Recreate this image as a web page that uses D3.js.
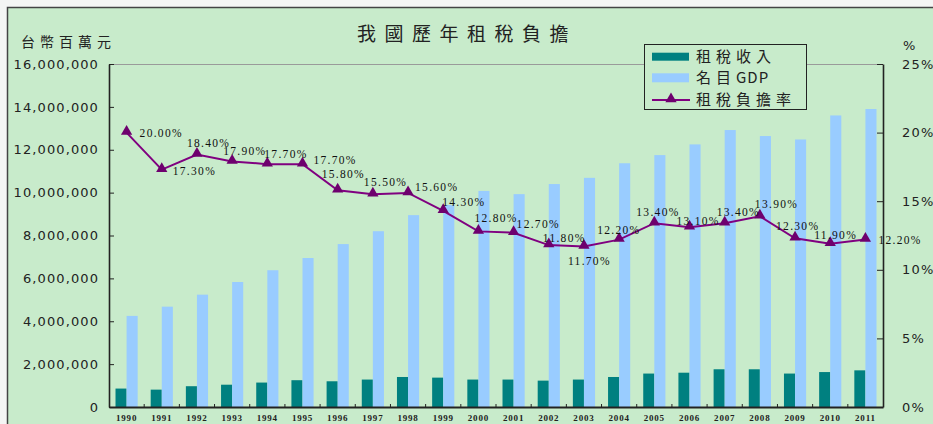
<!DOCTYPE html>
<html>
<head>
<meta charset="utf-8">
<script src="https://cdn.jsdelivr.net/npm/d3@7"></script>
<style>
  body { margin: 0; background: #f4f5f4; }
  svg { display: block; }
  .axis path, .axis line { stroke: #222; }
</style>
</head>
<body>
<svg id="chart" width="933" height="424"></svg>
<script>
// data (million NTD / percent)
var years = ["1990","1991","1992","1993","1994","1995","1996","1997","1998","1999","2000",
             "2001","2002","2003","2004","2005","2006","2007","2008","2009","2010","2011"];
var taxRevenue = [860000, 810000, 970000, 1040000, 1140000, 1250000, 1200000, 1280000, 1400000, 1370000, 1280000,
                  1280000, 1230000, 1280000, 1400000, 1560000, 1600000, 1760000, 1760000, 1560000, 1630000, 1710000];
var nominalGDP = [4250000, 4680000, 5240000, 5830000, 6380000, 6950000, 7600000, 8200000, 8950000, 9420000, 10080000,
                  9930000, 10400000, 10690000, 11370000, 11750000, 12250000, 12920000, 12640000, 12480000, 13600000, 13900000];
var taxBurden = [20.0, 17.3, 18.4, 17.9, 17.7, 17.7, 15.8, 15.5, 15.6, 14.3, 12.8,
                 12.7, 11.8, 11.7, 12.2, 13.4, 13.1, 13.4, 13.9, 12.3, 11.9, 12.2];
var seriesNames = ["租稅收入", "名目GDP", "租稅負擔率"];
var leftTicks = [0, 2000000, 4000000, 6000000, 8000000, 10000000, 12000000, 14000000, 16000000];
var rightTicks = [0, 5, 10, 15, 20, 25];

// hand placed label nudges, like the original excel labels
var labelShift = [[13,0],[11,1],[-10,-12],[-9,-10],[-3,-10],[11,-4],[-16,-16],[-9,-12],[7,-6],[-1,-9],[-4,-13],
                  [3,-9],[-6,-7],[-16,14],[-22,-10],[-18,-11],[-13,-6],[-8,-11],[-5,-12],[-19,-12],[-16,-9],[13,0]];

var svg = d3.select("#chart");
var margin = {top: 64, right: 50, bottom: 17, left: 109};
var width = 933 - margin.left - margin.right;
var height = 424 - margin.top - margin.bottom;

var data = years.map(function(y, i) {
  return {year: y, tax: taxRevenue[i], gdp: nominalGDP[i], rate: taxBurden[i]};
});
var keys = ["tax", "gdp"];
var colors = {tax: "#008080", gdp: "#99ccff"};

// outer frame
svg.append("rect").attr("x", 7.5).attr("y", 7.5).attr("width", 960).attr("height", 440)
    .attr("fill", "#c8ebcb").attr("stroke", "#444").attr("stroke-width", 1.5);

var g = svg.append("g").attr("transform", "translate(" + margin.left + "," + margin.top + ")");

var x0 = d3.scaleBand().domain(years).range([0, width]).paddingInner(0.37).paddingOuter(0.185);
var x1 = d3.scaleBand().domain(keys).range([0, x0.bandwidth()]);
var y = d3.scaleLinear().domain([0, 16000000]).range([height, 0]);
var y2 = d3.scaleLinear().domain([0, 25]).range([height, 0]);

// plot top border
g.append("line").attr("x1", 0).attr("x2", width).attr("y1", 0.5).attr("y2", 0.5)
    .attr("stroke", "#9a9a9a").attr("stroke-width", 1.2);

// bars
g.append("g").selectAll("g").data(data).enter().append("g")
    .attr("transform", function(d) { return "translate(" + x0(d.year) + ",0)"; })
  .selectAll("rect")
  .data(function(d) { return keys.map(function(k) { return {key: k, value: d[k]}; }); })
  .enter().append("rect")
    .attr("x", function(d) { return x1(d.key); })
    .attr("y", function(d) { return y(d.value); })
    .attr("width", x1.bandwidth())
    .attr("height", function(d) { return height - y(d.value); })
    .attr("fill", function(d) { return colors[d.key]; });

// left axis
var la = g.append("g").attr("class", "axis")
    .call(d3.axisLeft(y).tickValues(leftTicks).tickSize(-5).tickSizeOuter(0).tickPadding(10).tickFormat(d3.format(",")));
la.select(".domain").attr("stroke-width", 1.6);
la.selectAll("text").attr("font-family", "DejaVu Sans").attr("font-size", 13)
    .attr("letter-spacing", "1.1px").attr("fill", "#222");

// right axis
var ra = g.append("g").attr("class", "axis").attr("transform", "translate(" + width + ",0)")
    .call(d3.axisRight(y2).tickValues(rightTicks).tickSize(-6).tickSizeOuter(0).tickPadding(19)
      .tickFormat(function(d) { return d + "%"; }));
ra.select(".domain").attr("stroke-width", 1.6);
ra.selectAll("text").attr("font-family", "DejaVu Sans").attr("font-size", 13)
    .attr("letter-spacing", "1.2px").attr("fill", "#222");

// bottom axis, labels under the band, ticks at band edges
var ba = g.append("g").attr("class", "axis").attr("transform", "translate(0," + height + ")")
    .call(d3.axisBottom(x0).tickSize(0).tickPadding(8).tickSizeOuter(0));
ba.select(".domain").attr("stroke-width", 2);
ba.selectAll("text").attr("font-family", "Liberation Serif").attr("font-size", 9)
    .attr("font-weight", "bold").attr("letter-spacing", "0.8px").attr("fill", "#222");
ba.selectAll(".edge").data(years.slice(1)).enter().append("line")
    .attr("class", "edge")
    .attr("x1", function(d) { return x0(d) - x0.step() * x0.paddingInner() / 2; })
    .attr("x2", function(d) { return x0(d) - x0.step() * x0.paddingInner() / 2; })
    .attr("y1", 0).attr("y2", -3).attr("stroke", "#222");

// tax burden line
var cx = function(d) { return x0(d.year) + x0.bandwidth() / 2; };
g.append("path").datum(data)
    .attr("fill", "none").attr("stroke", "#800080").attr("stroke-width", 2)
    .attr("d", d3.line().x(cx).y(function(d) { return y2(d.rate); }));

var tri = d3.symbol().type(d3.symbolTriangle).size(55);
g.append("g").selectAll("path").data(data).enter().append("path")
    .attr("d", tri)
    .attr("transform", function(d) { return "translate(" + cx(d) + "," + (y2(d.rate) - 1) + ")"; })
    .attr("fill", "#6e006e");

g.append("g").selectAll("text").data(data).enter().append("text")
    .attr("x", function(d, i) { return cx(d) + labelShift[i][0]; })
    .attr("y", function(d, i) { return y2(d.rate) + labelShift[i][1]; })
    .attr("dy", "0.35em")
    .attr("font-family", "Liberation Serif").attr("font-size", 11.5)
    .attr("letter-spacing", "1.3px").attr("fill", "#111")
    .text(function(d) { return d.rate.toFixed(2) + "%"; });

// titles
svg.append("text").attr("x", 467).attr("y", 34).attr("dy", "0.35em").attr("text-anchor", "middle")
    .attr("font-family", "Noto Sans CJK TC").attr("font-size", 19).attr("letter-spacing", "8.5px")
    .attr("fill", "#222").text("我國歷年租稅負擔");
svg.append("text").attr("x", 21).attr("y", 42).attr("dy", "0.35em")
    .attr("font-family", "Noto Sans CJK TC").attr("font-size", 14).attr("letter-spacing", "5px")
    .attr("fill", "#222").text("台幣百萬元");
svg.append("text").attr("x", 903).attr("y", 45).attr("dy", "0.35em")
    .attr("font-family", "DejaVu Sans").attr("font-size", 13).attr("fill", "#222").text("%");

// legend
var lg = svg.append("g").attr("transform", "translate(644,44)");
lg.append("rect").attr("x", 0.5).attr("y", 0.5).attr("width", 162).attr("height", 65)
    .attr("fill", "#c8ebcb").attr("stroke", "#222");
var rowY = [12.7, 33.8, 56];
lg.append("rect").attr("x", 8).attr("y", rowY[0] - 4).attr("width", 37).attr("height", 8).attr("fill", colors.tax);
lg.append("rect").attr("x", 8).attr("y", rowY[1] - 4.5).attr("width", 37).attr("height", 9).attr("fill", colors.gdp);
lg.append("line").attr("x1", 8).attr("x2", 46).attr("y1", rowY[2]).attr("y2", rowY[2])
    .attr("stroke", "#800080").attr("stroke-width", 2);
lg.append("path").attr("d", tri).attr("transform", "translate(27," + (rowY[2] - 1) + ")").attr("fill", "#6e006e");
var lt = lg.selectAll("text.lab").data(seriesNames).enter().append("text")
    .attr("class", "lab")
    .attr("x", 52).attr("y", function(d, i) { return rowY[i]; }).attr("dy", "0.36em")
    .attr("font-family", "Noto Sans CJK TC").attr("font-size", 15).attr("fill", "#222");
// CJK glyphs are spaced wide, latin letters are not
lt.each(function(d) {
  var t = d3.select(this);
  d.split(/([A-Za-z]+)/).filter(function(s) { return s.length; }).forEach(function(s) {
    var latin = /[A-Za-z]/.test(s);
    t.append("tspan").attr("letter-spacing", latin ? "1px" : "5px").text(s);
  });
});
</script>
</body>
</html>
